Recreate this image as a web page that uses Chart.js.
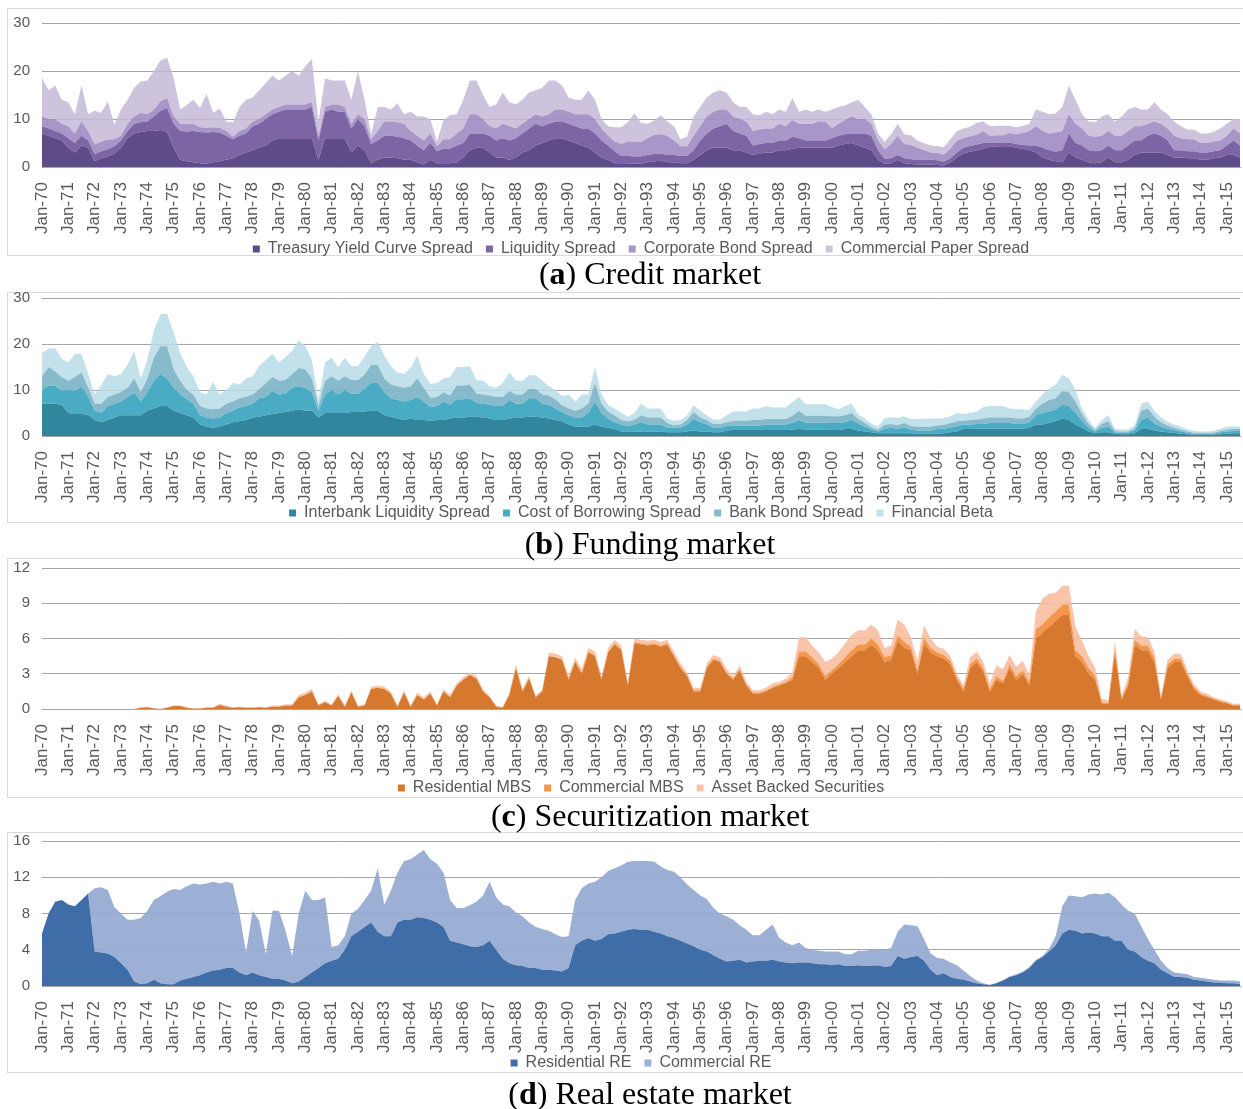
<!DOCTYPE html>
<html>
<head>
<meta charset="utf-8">
<script src="https://cdn.jsdelivr.net/npm/chart.js@4.4.1/dist/chart.umd.min.js"></script>
<style>
  body { margin: 0; width: 1243px; height: 1109px; position: relative; background: #fff; overflow: hidden; }
  .frame { position: absolute; left: 7px; width: 1240px; border: 1px solid #d9d9d9; box-sizing: border-box; }
  canvas { position: absolute; left: 0; }
  .caption { position: absolute; left: 400px; width: 500px; text-align: center; font-family: "Liberation Serif", "Times New Roman", serif; font-size: 32px; color: #000; line-height: 34px; }
</style>
</head>
<body>
<div class="frame" style="top:8px;height:248px"></div>
<div class="frame" style="top:292px;height:231px"></div>
<div class="frame" style="top:558px;height:240px"></div>
<div class="frame" style="top:832px;height:241px"></div>

<canvas id="credit" width="1243" height="254" style="top:13px"></canvas>
<canvas id="funding" width="1243" height="243" style="top:288px"></canvas>
<canvas id="securitization" width="1243" height="248" style="top:558px"></canvas>
<canvas id="realestate" width="1243" height="250" style="top:831px"></canvas>

<div class="caption" style="top:256px">(<b>a</b>) Credit market</div>
<div class="caption" style="top:526px">(<b>b</b>) Funding market</div>
<div class="caption" style="top:798px">(<b>c</b>) Securitization market</div>
<div class="caption" style="top:1076px">(<b>d</b>) Real estate market</div>

<script>
// quarterly readings, Jan-70 .. Jul-15 (183 points per series)

const yearTicks = [
  "Jan-70", "Jan-71", "Jan-72", "Jan-73", "Jan-74", "Jan-75", "Jan-76", "Jan-77", "Jan-78", "Jan-79",
  "Jan-80", "Jan-81", "Jan-82", "Jan-83", "Jan-84", "Jan-85", "Jan-86", "Jan-87", "Jan-88", "Jan-89",
  "Jan-90", "Jan-91", "Jan-92", "Jan-93", "Jan-94", "Jan-95", "Jan-96", "Jan-97", "Jan-98", "Jan-99",
  "Jan-00", "Jan-01", "Jan-02", "Jan-03", "Jan-04", "Jan-05", "Jan-06", "Jan-07", "Jan-08", "Jan-09",
  "Jan-10", "Jan-11", "Jan-12", "Jan-13", "Jan-14", "Jan-15"
];
const quarterMonths = ["Jan", "Apr", "Jul", "Oct"];
const POINTS = 183;

/* ---------- (a) Credit market ---------- */
const treasurySpread = [
  7, 6.5, 6, 5.5,  4, 3, 4.5, 4,            // 70-71
  1.2, 1.8, 2.2, 2.8,  4, 6, 7, 7.3,        // 72-73
  7.5, 7.5, 7.7, 7.3,  4, 1.5, 1.2, 1,      // 74-75
  0.8, 0.7, 1, 1.2,  1.5, 1.8, 2.5, 3,      // 76-77
  3.5, 4, 4.5, 5.5,  6, 6, 6, 6,            // 78-79
  6, 6, 1.5, 6,  6, 6, 6, 3,                // 80-81
  4.5, 3.5, 0.8, 1.5,  2, 2, 1.8, 1.5,      // 82-83
  1.5, 1, 0.5, 1.5,  0.8, 0.8, 0.8, 1,      // 84-85
  2, 3.5, 4, 4,  3, 2, 2, 1.5,              // 86-87
  2, 3, 3.5, 4.5,  5, 5.5, 6, 6,            // 88-89
  5.5, 5, 4.5, 4,  3, 2, 1.5, 0.8,          // 90-91
  0.8, 0.8, 0.7, 0.7,  1, 1.2, 1.3, 1,      // 92-93
  1, 0.8, 0.8, 1.5,  2.5, 3.5, 4, 4,        // 94-95
  4, 3.5, 3.5, 3,  2.5, 2.8, 3, 3,          // 96-97
  3.5, 3.5, 3.8, 4,  4, 4, 4, 4,            // 98-99
  4, 4.5, 4.8, 5,  4.5, 4, 3.5, 1.5,        // 00-01
  0.7, 0.8, 1.5, 0.8,  0.6, 0.5, 0.5, 0.5,  // 02-03
  0.4, 0.3, 1, 2,  2.8, 3.2, 3.5, 3.8,      // 04-05
  4.2, 4.3, 4.3, 4.3,  4, 3.8, 3.5, 3,      // 06-07
  2, 1.5, 1.2, 1,  3, 2, 1.5, 1,            // 08-09
  0.8, 1, 2, 1,  1, 1.5, 2.5, 3,            // 10-11
  3, 3, 3, 2.5,  2, 2, 1.8, 1.8,            // 12-13
  1.5, 1.5, 1.8, 2,  2.5, 2.5, 2            // 14-15
];
const liquiditySpread = [
  1.5, 1.5, 1.5, 1.5,  2, 2, 2, 1.5,        // 70-71
  1.5, 1.5, 1.5, 1.5,  1.5, 1.5, 2, 2,      // 72-73
  2, 3, 4, 5,  5, 6, 6.2, 6.5,              // 74-75
  6.5, 6.5, 6.3, 6,  5, 4, 4, 4,            // 76-77
  5, 5, 5.5, 5.5,  5.5, 6, 6, 6,            // 78-79
  6, 6.5, 4, 5.5,  6, 5.5, 5.5, 5,          // 80-81
  5.5, 5, 4, 4,  4.5, 4.5, 4.5, 4.5,        // 82-83
  4, 3.5, 3, 3.5,  2.5, 3, 3, 3.5,          // 84-85
  3, 3.5, 3, 3,  3.5, 3.5, 4, 4,            // 86-87
  4, 4, 4.5, 4.5,  3.5, 3.5, 3.5, 3.5,      // 88-89
  3.5, 3.5, 3.5, 4,  4, 3.5, 3, 2.5,        // 90-91
  1.5, 1.5, 1.5, 1.5,  1.5, 1.5, 1.5, 1.5,  // 92-93
  1.5, 1.5, 1.5, 2,  3, 3.5, 4, 4.5,        // 94-95
  5, 4, 3.5, 3.5,  2, 2, 2, 2,              // 96-97
  2, 2, 2.5, 2,  1.5, 1.5, 1.5, 1.5,        // 98-99
  2, 2, 2, 2,  2.5, 3, 3, 2,                // 00-01
  1, 1, 1, 1,  1, 1, 1, 1,                  // 02-03
  1, 0.8, 0.8, 1,  1.2, 1.2, 1.2, 1.2,      // 04-05
  0.8, 0.8, 0.8, 0.8,  0.8, 0.8, 1, 1.5,    // 06-07
  2, 2, 2, 2.5,  4, 3, 3, 2.5,              // 08-09
  2.5, 2.5, 2.5, 2.5,  2.5, 3, 3, 2.5,      // 10-11
  3.5, 4, 3.5, 3,  1.5, 1.5, 1.5, 1.5,      // 12-13
  1.5, 1.5, 1.5, 1.5,  2, 3, 2.5            // 14-15
];
const corporateBondSpread = [
  2, 2, 2.5, 2,  2.5, 2, 3, 2,              // 70-71
  2, 2, 2, 1.5,  1, 1.5, 1.5, 2,            // 72-73
  1.5, 1.5, 2, 2,  1.5, 1.5, 1.5, 1.5,      // 74-75
  1, 1, 1, 1,  1, 0.5, 1, 1,                // 76-77
  1, 1, 1, 1,  1, 1, 1, 1,                  // 78-79
  1, 1, 1, 1,  1, 1.5, 1, 1,                // 80-81
  1, 1.5, 1, 2,  3, 3, 3, 3,                // 82-83
  2, 2, 2, 2,  1, 2, 2, 2.5,                // 84-85
  3, 4, 4, 3,  2, 2.5, 3, 3,                // 86-87
  2, 2, 2, 2,  2, 2, 2.5, 2.5,              // 88-89
  2.5, 2.5, 3, 3,  3, 2.5, 2, 2,            // 90-91
  2.5, 3, 3, 3,  3.5, 4, 4, 4,              // 92-93
  3, 2, 2, 3,  3, 3.5, 3.5, 3.5,            // 94-95
  3, 3, 3, 3,  3, 3, 3, 3,                  // 96-97
  3.5, 3, 3.5, 3,  3.5, 3.5, 4, 4,          // 98-99
  2, 2.5, 3, 3.5,  3, 3, 2.5, 2,            // 00-01
  2, 3, 4, 3,  3, 2.5, 2, 1.5,              // 02-03
  1.5, 1.5, 2, 2.5,  2, 2, 2, 2.5,          // 04-05
  1.5, 1.5, 1.5, 2,  2, 2.5, 3, 4,          // 06-07
  3.5, 3.5, 4, 4,  4, 4, 3.5, 3,            // 08-09
  3, 3, 3, 3,  3, 3, 3, 3,                  // 10-11
  2.5, 2.5, 2.5, 2.5,  3, 2.5, 2.5, 2.5,    // 12-13
  2, 2, 2, 2,  2, 2.5, 2.5                  // 14-15
];
const commercialPaperSpread = [
  8, 6, 7, 5,  5, 4, 7.5, 3.5,              // 70-71
  7, 6, 8, 3,  5.5, 5, 6, 6.5,              // 72-73
  7, 8, 8.5, 8.5,  8, 3, 4, 5,              // 74-75
  4, 7, 3, 4,  2, 3, 5, 6,                  // 76-77
  5, 6, 6.5, 7,  5.5, 6, 7, 6,              // 78-79
  8, 9, 3, 6,  5, 5, 5.5, 5,                // 80-81
  9, 4, 1, 5,  3, 2.5, 4, 2,                // 82-83
  4, 4, 5, 3,  1, 4, 5, 4,                  // 84-85
  6, 7, 7, 5,  4, 5, 6.5, 5,                // 86-87
  5, 5, 5.5, 5,  6, 7, 6, 5,                // 88-89
  3, 3, 3, 5,  4, 2, 2, 3,                  // 90-91
  3.5, 4, 6, 4,  3, 3, 4, 3,                // 92-93
  3, 1.5, 2, 4,  4, 4, 4, 4,                // 94-95
  3.5, 3, 2.5, 3,  3.5, 3, 3.5, 3,          // 96-97
  3, 3, 4.5, 2.5,  3, 2.5, 2.5, 2,          // 98-99
  4, 3.5, 3, 3,  4, 2.5, 2, 1.5,            // 00-01
  1.5, 2, 2.5, 2,  2, 1.5, 1.5, 1.5,        // 02-03
  1.5, 1.5, 2, 2,  2, 2, 2.5, 2,            // 04-05
  2, 2, 2, 1.5,  1.5, 1.5, 1.5, 3.5,        // 06-07
  4, 4, 4, 5,  6, 5, 3, 3,                  // 08-09
  3, 4, 3.5, 3,  4, 4.5, 4, 3.5,            // 10-11
  3, 4, 3, 3,  3, 2.5, 2, 2,                // 12-13
  2, 2, 2, 2.5,  2.5, 2, 3                  // 14-15
];

/* ---------- (b) Funding market ---------- */
const interbankSpread = [
  7, 7, 7, 6.8,  5, 4.8, 4.8, 4.6,          // 70-71
  3.5, 3, 3.5, 4,  4.5, 4.5, 4.5, 4.5,      // 72-73
  5.5, 6, 6.5, 6.5,  5.5, 5, 4.5, 4,        // 74-75
  2.5, 2, 1.8, 2,  2.5, 3, 3.2, 3.5,        // 76-77
  4, 4.2, 4.5, 4.8,  5, 5.2, 5.5, 5.8,      // 78-79
  5.5, 5.5, 4, 5,  5, 5, 5, 5.2,            // 80-81
  5.2, 5.3, 5.5, 5.5,  4.5, 4.2, 3.8, 3.5,  // 82-83
  3.8, 3.5, 3.5, 3.3,  3.5, 3.5, 3.8, 4,    // 84-85
  4, 4.2, 4.2, 4,  3.8, 3.5, 3.5, 3.8,      // 86-87
  4, 4, 4.2, 4.2,  4, 3.8, 3.5, 3.2,        // 88-89
  2.5, 2, 2, 2,  2.5, 2, 1.8, 1.5,          // 90-91
  1, 1, 1, 1,  1, 1, 1, 0.8,                // 92-93
  0.8, 0.8, 1, 1.2,  1, 1, 0.8, 0.8,        // 94-95
  1.2, 1.3, 1.3, 1.3,  1.3, 1.3, 1.3, 1.3,  // 96-97
  1.3, 1.3, 1.4, 1.5,  1.4, 1.4, 1.4, 1.4,  // 98-99
  1.3, 1.3, 1.5, 1.5,  1.2, 1, 0.8, 0.6,    // 00-01
  0.6, 0.6, 0.6, 0.6,  0.6, 0.5, 0.5, 0.5,  // 02-03
  0.5, 0.6, 0.8, 1,  1.5, 1.5, 1.6, 1.6,    // 04-05
  1.6, 1.6, 1.6, 1.6,  1.6, 1.6, 1.8, 2.5,  // 06-07
  2.5, 2.8, 3.2, 3.8,  3.5, 2.5, 1.8, 1,    // 08-09
  0.6, 0.8, 0.8, 0.5,  0.4, 0.4, 0.6, 1.5,  // 10-11
  1.5, 1.2, 1, 0.8,  0.7, 0.5, 0.4, 0.3,    // 12-13
  0.3, 0.3, 0.3, 0.4,  0.5, 0.6, 0.6        // 14-15
];
const borrowingSpread = [
  3, 4, 4, 3,  5, 5, 6, 4,                  // 70-71
  2, 2, 3, 3,  3, 4, 5, 3,                  // 72-73
  4, 6, 7, 6,  5, 4, 3.5, 3,                // 74-75
  2, 2, 2, 2,  2.5, 2.5, 3, 3,              // 76-77
  3, 4, 4, 5,  4, 4, 5, 5,                  // 78-79
  5, 4, 1.5, 4,  5, 4, 5, 4,                // 80-81
  4, 5, 6, 6,  5, 4, 4, 4,                  // 82-83
  4, 5, 4, 3,  3, 4, 3, 4,                  // 84-85
  4, 4, 3, 3,  3, 3, 3, 4,                  // 86-87
  3, 3, 4, 4,  3, 3, 2.5, 2,                // 88-89
  2, 2, 2, 3,  5, 3, 2, 1.5,                // 90-91
  1.5, 1.2, 1.5, 2,  1.5, 1.5, 1.5, 1,      // 92-93
  1, 1, 1.5, 2.5,  2, 1.5, 1, 1,            // 94-95
  1, 1, 1, 1,  1, 1, 1.2, 1.2,              // 96-97
  1.2, 1.2, 1.5, 2,  1.5, 1.5, 1.5, 1.5,    // 98-99
  1.5, 1.5, 1.5, 2,  1.5, 1, 0.6, 0.4,      // 00-01
  1, 1.2, 1, 1.2,  0.8, 0.7, 0.7, 0.7,      // 02-03
  1, 1, 1, 1.2,  1, 1, 1, 1,                // 04-05
  1.2, 1.2, 1.2, 1.2,  1, 1, 1.2, 2,        // 06-07
  2.5, 2.5, 2.5, 3,  3, 2.5, 1.5, 0.8,      // 08-09
  0.4, 1, 1.2, 0.3,  0.3, 0.3, 0.6, 2,      // 10-11
  2.5, 1.5, 1, 0.8,  0.6, 0.5, 0.3, 0.2,    // 12-13
  0.2, 0.2, 0.2, 0.4,  0.5, 0.5, 0.5        // 14-15
];
const bankBondSpread = [
  3, 4, 3, 3,  2, 3, 3, 2,                  // 70-71
  1.5, 2, 2, 2,  2, 2, 3, 2,                // 72-73
  3, 5, 6, 7,  4, 3, 2, 2,                  // 74-75
  2, 2, 2, 2,  2, 2, 2, 2,                  // 76-77
  2, 2, 3, 3,  3, 3, 3, 4,                  // 78-79
  4, 3, 1, 3,  3, 3, 3, 3,                  // 80-81
  3, 3, 4, 4,  3, 3, 3, 3,                  // 82-83
  3, 4, 3, 2,  2, 2, 2, 3,                  // 84-85
  3, 3, 2, 2,  2, 2, 2, 2,                  // 86-87
  2, 2, 2, 2,  2, 2, 2, 1.5,                // 88-89
  1.5, 1.5, 2, 2,  4, 2, 1.5, 1.5,          // 90-91
  1, 1, 1, 1.5,  1.5, 1.5, 1.5, 1,          // 92-93
  0.5, 0.7, 1, 1.5,  1, 1, 0.8, 0.8,        // 94-95
  0.8, 1, 1, 1,  1.2, 1.2, 1.2, 1.2,        // 96-97
  1.2, 1.2, 1.5, 2,  1.5, 1.5, 1.5, 1.5,    // 98-99
  1.5, 1.5, 1.5, 1.5,  1, 0.8, 0.5, 0.4,    // 00-01
  0.8, 0.8, 0.8, 1,  0.8, 0.8, 0.8, 0.8,    // 02-03
  0.8, 0.8, 1, 1,  0.8, 1, 1, 1.2,          // 04-05
  1.2, 1.2, 1.2, 1.2,  1.2, 1.2, 1.2, 1.5,  // 06-07
  2, 2.5, 2.5, 3,  3, 2.5, 1.5, 0.8,        // 08-09
  0.3, 0.8, 1.2, 0.3,  0.3, 0.3, 0.5, 2,    // 10-11
  2, 1.5, 1, 0.7,  0.5, 0.4, 0.3, 0.2,      // 12-13
  0.2, 0.2, 0.2, 0.3,  0.4, 0.4, 0.4        // 14-15
];
const financialBeta = [
  5, 4, 5, 4,  4, 5, 4, 3,                  // 70-71
  2, 4, 5, 4,  4, 5, 6, 3,                  // 72-73
  4, 6, 7, 7,  8, 6, 5, 4,                  // 74-75
  3, 3, 6, 3,  3, 4, 3, 4,                  // 76-77
  4, 5, 5, 5,  4, 5, 5, 6,                  // 78-79
  5, 4, 1.5, 4,  4, 3, 4, 3,                // 80-81
  3, 4, 4, 5,  5, 4, 3, 3,                  // 82-83
  4, 5, 3, 3,  3, 3, 4, 4,                  // 84-85
  4, 4, 3, 3,  2, 2, 3, 4,                  // 86-87
  3, 3, 3, 3,  3, 2, 2, 2,                  // 88-89
  3, 2, 3, 2,  3.5, 2, 1.5, 1.5,            // 90-91
  1.5, 1, 1.5, 2.5,  2, 2, 2, 1,            // 92-93
  1, 1, 1, 1.5,  1.5, 1, 1, 1,              // 94-95
  1.5, 2, 2, 2,  2.5, 2.5, 2.8, 2.5,        // 96-97
  2.5, 2.5, 3, 3,  2.5, 2.5, 2.5, 2.5,      // 98-99
  2, 1.5, 2, 2,  1, 1, 0.8, 0.6,            // 00-01
  1.5, 1.5, 1.5, 1.5,  1.5, 1.7, 1.8, 1.8,  // 02-03
  1.5, 1.5, 1.5, 1.8,  1.5, 1.5, 1.7, 2.5,  // 04-05
  2.5, 2.5, 2.5, 2,  2, 2, 1.5, 1.5,        // 06-07
  2, 2.5, 3, 3.5,  3, 2.5, 1.2, 0.9,        // 08-09
  0.5, 0.9, 1.3, 0.4,  0.4, 0.4, 0.6, 1.5,  // 10-11
  1.5, 1.3, 1, 0.8,  0.7, 0.6, 0.5, 0.4,    // 12-13
  0.3, 0.3, 0.4, 0.5,  0.6, 0.6, 0.5        // 14-15
];

/* ---------- (c) Securitization market ---------- */
const residentialMBS = [
  0, 0, 0, 0,  0, 0, 0, 0,                  // 70-71
  0, 0, 0, 0,  0, 0, 0, 0.1,                // 72-73
  0.15, 0.05, 0, 0.1,  0.25, 0.25, 0.1, 0.05, // 74-75
  0.05, 0.1, 0.1, 0.35,  0.2, 0.1, 0.15, 0.1, // 76-77
  0.1, 0.15, 0.1, 0.2,  0.2, 0.3, 0.3, 1,   // 78-79
  1.2, 1.5, 0.3, 0.6,  0.3, 1.1, 0.2, 1.4,  // 80-81
  0.2, 0.3, 1.7, 1.8,  1.7, 1.3, 0.2, 1.4,  // 82-83
  0.2, 1.2, 0.8, 1.3,  0.3, 1.5, 1, 2,      // 84-85
  2.5, 2.9, 2.6, 1.5,  1, 0.2, 0.1, 1.2,    // 86-87
  3.5, 1.5, 2.6, 1,  1.5, 4.5, 4.4, 4.2,    // 88-89
  2.5, 4, 3, 4.8,  4.5, 2.5, 4.8, 5.5,      // 90-91
  5, 2, 5.6, 5.5,  5.4, 5.5, 5.3, 5.5,      // 92-93
  4.5, 3.5, 2.8, 1.5,  1.5, 3.5, 4.2, 4,    // 94-95
  3, 2.5, 3.3, 2,  1.3, 1.3, 1.5, 1.8,      // 96-97
  2, 2.2, 2.5, 4.5,  4.5, 4, 3.5, 2.5,      // 98-99
  3, 3.5, 4, 4.5,  5, 5, 5.5, 5,            // 00-01
  4, 4.2, 5.8, 5.2,  5, 3, 5.6, 4.8,        // 02-03
  4.5, 4.3, 3.8, 2.5,  1.5, 3.5, 4, 3.2,    // 04-05
  1.5, 2.5, 2.2, 3.5,  2.5, 3, 2, 6,        // 06-07
  6.5, 7, 7.5, 8,  8, 4.5, 4, 3,            // 08-09
  2.5, 0.5, 0.4, 4.8,  0.8, 2, 5.5, 5,      // 10-11
  5, 4, 0.8, 3.5,  4, 4, 2.8, 1.7,          // 12-13
  1.2, 1, 0.8, 0.6,  0.5, 0.3, 0.3          // 14-15
];
const commercialMBS = [
  0, 0, 0, 0,  0, 0, 0, 0,                  // 70-71
  0, 0, 0, 0,  0, 0, 0, 0,                  // 72-73
  0, 0, 0, 0,  0, 0, 0, 0,                  // 74-75
  0, 0, 0, 0,  0, 0, 0, 0,                  // 76-77
  0, 0, 0, 0,  0, 0, 0, 0,                  // 78-79
  0, 0, 0, 0,  0, 0, 0, 0,                  // 80-81
  0, 0, 0, 0,  0, 0, 0, 0,                  // 82-83
  0, 0, 0, 0,  0, 0, 0, 0,                  // 84-85
  0, 0, 0, 0,  0, 0, 0, 0,                  // 86-87
  0, 0, 0, 0,  0, 0, 0, 0,                  // 88-89
  0.1, 0.1, 0.1, 0.1,  0.1, 0.1, 0.1, 0.1,  // 90-91
  0.1, 0.1, 0.1, 0.1,  0.1, 0.1, 0.1, 0.1,  // 92-93
  0.1, 0.1, 0.1, 0.1,  0.1, 0.1, 0.1, 0.1,  // 94-95
  0.1, 0.1, 0.1, 0.1,  0.1, 0.1, 0.1, 0.1,  // 96-97
  0.1, 0.1, 0.2, 0.4,  0.4, 0.4, 0.3, 0.3,  // 98-99
  0.3, 0.3, 0.4, 0.5,  0.5, 0.5, 0.5, 0.5,  // 00-01
  0.4, 0.4, 0.5, 0.5,  0.3, 0.3, 0.5, 0.4,  // 02-03
  0.3, 0.3, 0.3, 0.2,  0.2, 0.3, 0.3, 0.3,  // 04-05
  0.2, 0.3, 0.2, 0.3,  0.3, 0.3, 0.3, 0.8,  // 06-07
  0.7, 0.8, 0.8, 0.9,  0.9, 0.5, 0.5, 0.5,  // 08-09
  0.3, 0.1, 0.1, 0.4,  0.1, 0.2, 0.4, 0.4,  // 10-11
  0.4, 0.4, 0.1, 0.3,  0.3, 0.3, 0.2, 0.2,  // 12-13
  0.1, 0.1, 0.1, 0.1,  0.05, 0.05, 0.05     // 14-15
];
const assetBacked = [
  0, 0, 0, 0,  0, 0, 0, 0,                  // 70-71
  0, 0, 0, 0,  0, 0, 0, 0.05,               // 72-73
  0.05, 0.05, 0, 0.05,  0.05, 0.05, 0.05, 0, // 74-75
  0, 0.05, 0.05, 0.1,  0.1, 0.05, 0.05, 0.05, // 76-77
  0.05, 0.05, 0.05, 0.1,  0.1, 0.1, 0.1, 0.2, // 78-79
  0.2, 0.2, 0.1, 0.1,  0.1, 0.2, 0.1, 0.2,  // 80-81
  0.1, 0.1, 0.2, 0.2,  0.2, 0.2, 0.1, 0.2,  // 82-83
  0.1, 0.2, 0.2, 0.2,  0.1, 0.2, 0.2, 0.2,  // 84-85
  0.2, 0.2, 0.2, 0.2,  0.1, 0.1, 0.1, 0.2,  // 86-87
  0.3, 0.2, 0.2, 0.1,  0.2, 0.3, 0.3, 0.3,  // 88-89
  0.2, 0.3, 0.3, 0.3,  0.3, 0.2, 0.3, 0.3,  // 90-91
  0.3, 0.2, 0.3, 0.3,  0.3, 0.3, 0.3, 0.3,  // 92-93
  0.3, 0.3, 0.2, 0.2,  0.2, 0.3, 0.3, 0.3,  // 94-95
  0.3, 0.2, 0.3, 0.2,  0.2, 0.2, 0.2, 0.3,  // 96-97
  0.2, 0.3, 0.4, 1.2,  1.2, 1, 1, 1.2,      // 98-99
  1, 1, 1.2, 1.3,  1.2, 1.2, 1.2, 1.2,      // 00-01
  0.8, 0.8, 1.3, 1.5,  0.8, 0.8, 1, 0.8,    // 02-03
  0.5, 0.5, 0.4, 0.3,  0.3, 0.6, 0.6, 0.5,  // 04-05
  0.5, 0.9, 1, 0.8,  0.8, 0.8, 0.6, 1.5,    // 06-07
  2.2, 2, 1.6, 1.6,  1.6, 2, 1.3, 1,        // 08-09
  0.7, 0.3, 0.2, 0.6,  0.2, 0.5, 0.9, 0.8,  // 10-11
  0.7, 0.5, 0.2, 0.4,  0.4, 0.4, 0.3, 0.2,  // 12-13
  0.2, 0.2, 0.1, 0.1,  0.1, 0.1, 0.1        // 14-15
];

/* ---------- (d) Real estate market ---------- */
const residentialRE = [
  5.8, 8, 9.3, 9.5,  9, 8.8, 9.5, 10.2,     // 70-71
  3.8, 3.7, 3.6, 3.2,  2.5, 1.8, 0.5, 0.2,  // 72-73
  0.3, 0.7, 0.3, 0.2,  0.2, 0.6, 0.8, 1,    // 74-75
  1.2, 1.5, 1.7, 1.8,  2, 2, 1.5, 1.2,      // 76-77
  1.5, 1.2, 1, 0.8,  0.8, 0.6, 0.3, 0.5,    // 78-79
  1, 1.5, 2, 2.5,  2.8, 3, 4, 5.5,          // 80-81
  6, 6.5, 7, 6,  5.5, 5.5, 7, 7.3,          // 82-83
  7.3, 7.6, 7.5, 7.3,  7, 6.5, 5, 4.8,      // 84-85
  4.6, 4.4, 4.3, 4.5,  5, 4, 3, 2.5,        // 86-87
  2.3, 2.2, 2, 2,  1.8, 1.8, 1.7, 1.6,      // 88-89
  2, 4.5, 5, 5.3,  5, 5.2, 5.7, 5.8,        // 90-91
  6, 6.2, 6.3, 6.2,  6.2, 6, 5.8, 5.5,      // 92-93
  5.3, 5, 4.7, 4.4,  4, 3.8, 3.4, 3,        // 94-95
  2.7, 2.8, 2.9, 2.6,  2.7, 2.8, 2.8, 2.9,  // 96-97
  2.7, 2.6, 2.5, 2.6,  2.6, 2.5, 2.4, 2.4,  // 98-99
  2.3, 2.4, 2.2, 2.2,  2.3, 2.2, 2.2, 2.3,  // 00-01
  2.1, 2.2, 3.3, 3,  3.2, 3.3, 2.8, 1.8,    // 02-03
  1.2, 1.4, 1, 0.8,  0.7, 0.5, 0.3, 0.2,    // 04-05
  0.1, 0.3, 0.6, 1,  1.2, 1.5, 2, 2.8,      // 06-07
  3.2, 3.8, 4.5, 5.8,  6.2, 6.1, 5.8, 5.9,  // 08-09
  5.8, 5.5, 5.5, 5,  5, 4, 3.8, 3.2,        // 10-11
  2.8, 2.5, 1.8, 1.4,  1, 1, 0.9, 0.7,      // 12-13
  0.6, 0.5, 0.4, 0.4,  0.3, 0.3, 0.2        // 14-15
];
const commercialRE = [
  0, 0, 0, 0,  0, 0, 0, 0,                  // 70-71
  7, 7.2, 7, 5.5,  5.5, 5.5, 6.8, 7.3,      // 72-73
  8, 8.8, 9.6, 10.2,  10.5, 10, 10.2, 10.3, // 74-75
  10, 9.8, 9.8, 9.5,  9.5, 9.3, 6.5, 2.5,   // 76-77
  6.8, 6, 2.5, 7.5,  7.5, 5.5, 3, 7.5,      // 78-79
  9.5, 8, 7.5, 7.3,  1.5, 1.5, 1.5, 2.5,    // 80-81
  2.5, 3, 3.5, 7,  3.5, 5, 5.5, 6.5,        // 82-83
  6.7, 6.9, 7.5, 6.7,  6.5, 6, 4.5, 3.8,    // 84-85
  4, 4.5, 5, 5.5,  6.5, 5.8, 6, 6.3,        // 86-87
  5.8, 5.5, 5, 4.5,  4.5, 4.3, 4, 3.8,      // 88-89
  3.5, 5, 5.8, 6,  6.5, 6.8, 7, 7.2,        // 90-91
  7.3, 7.5, 7.5, 7.6,  7.6, 7.7, 7.4, 7.3,  // 92-93
  7.3, 7, 6.5, 6.2,  6, 5.8, 5.2, 5,        // 94-95
  5, 4.5, 3.8, 3.6,  2.9, 2.8, 3.4, 3.9,    // 96-97
  2.6, 2.2, 2, 2.2,  1.6, 1.5, 1.5, 1.4,    // 98-99
  1.5, 1.4, 1.3, 1.3,  1.6, 1.7, 1.8, 1.8,  // 00-01
  1.9, 2, 2.7, 3.8,  3.5, 3.3, 2.4, 1.8,    // 02-03
  1.9, 1.6, 1.6, 1.5,  1, 0.6, 0.3, 0.1,    // 04-05
  0.05, 0.05, 0.05, 0.05,  0.1, 0.1, 0.1, 0.1, // 06-07
  0.1, 0.3, 1, 3,  3.8, 3.8, 4, 4.2,        // 08-09
  4.4, 4.6, 4.8, 4.8,  4, 4.3, 4.2, 3.4,    // 10-11
  2.4, 1.5, 1, 0.6,  0.5, 0.4, 0.4, 0.3,    // 12-13
  0.3, 0.3, 0.3, 0.2,  0.3, 0.3, 0.3        // 14-15
];

/* ===================== Helpers ===================== */

const FONT = "'Liberation Sans', Arial, sans-serif";
const TEXT = "#595959";
const GRID = "#a6a6a6";

function quarterLabels() {
  const out = [];
  for (const t of yearTicks) {
    const yy = t.slice(4);
    for (const m of quarterMonths) out.push(`${m}-${yy}`);
  }
  return out.slice(0, POINTS);
}

function makeDatasets(series) {
  return series.map((s, i) => ({
    label: s.label,
    data: s.data,
    backgroundColor: s.color,
    borderColor: s.color,
    borderWidth: 0,
    pointRadius: 0,
    tension: 0,
    fill: i === 0 ? "origin" : "-1",
  }));
}

// rotated tick labels run deeper than the fixed axis height; let them draw down to the canvas edge
const labelRoom = {
  id: "labelRoom",
  afterLayout(chart) {
    const x = chart.scales.x;
    if (x) x.bottom = chart.height;
  },
};

function renderPanel(id, series, yMax, yStep, xHeight) {
  const ctx = document.getElementById(id);
  return new Chart(ctx, {
    type: "line",
    data: { labels: quarterLabels(), datasets: makeDatasets(series) },
    options: {
      responsive: false,
      animation: false,
      layout: { padding: { left: 7, right: 3, top: 10, bottom: 0 } },
      scales: {
        x: {
          offset: false,
          grid: { display: false },
          border: { display: true, color: GRID, width: 1 },
          ticks: {
            autoSkip: false,
            maxRotation: 90,
            minRotation: 90,
            padding: 7,
            color: TEXT,
            font: { family: FONT, size: 17 },
            callback: function (val, i) { return i % 4 === 0 ? this.getLabelForValue(val) : null; },
          },
          afterFit: (s) => { s.height = xHeight; s.paddingLeft = 0; s.paddingRight = 0; },
        },
        y: {
          stacked: true,
          min: 0,
          max: yMax,
          grid: { color: GRID, drawTicks: false },
          border: { display: false },
          ticks: { stepSize: yStep, padding: 12, color: TEXT, font: { family: FONT, size: 15 } },
          afterFit: (s) => { s.width = 35; s.paddingTop = 0; s.paddingBottom = 0; },
        },
      },
      plugins: {
        legend: {
          position: "bottom",
          fullSize: false,
          labels: { boxWidth: 7, boxHeight: 7, padding: 13, color: TEXT, font: { family: FONT, size: 16 } },
        },
        tooltip: { enabled: false },
      },
    },
    plugins: [labelRoom],
  });
}

/* ===================== Charts ===================== */

renderPanel("credit", [
  { label: "Treasury Yield Curve Spread", data: treasurySpread, color: "#5f4b87" },
  { label: "Liquidity Spread", data: liquiditySpread, color: "#7d64a5" },
  { label: "Corporate Bond Spread", data: corporateBondSpread, color: "rgba(160,141,194,0.92)" },
  { label: "Commercial Paper Spread", data: commercialPaperSpread, color: "rgba(196,185,214,0.85)" },
], 30, 10, 61);

renderPanel("funding", [
  { label: "Interbank Liquidity Spread", data: interbankSpread, color: "#31859c" },
  { label: "Cost of Borrowing Spread", data: borrowingSpread, color: "#4aabc5" },
  { label: "Bank Bond Spread", data: bankBondSpread, color: "rgba(125,181,200,0.92)" },
  { label: "Financial Beta", data: financialBeta, color: "rgba(183,220,230,0.85)" },
], 30, 10, 56);

renderPanel("securitization", [
  { label: "Residential MBS", data: residentialMBS, color: "#d7782f" },
  { label: "Commercial MBS", data: commercialMBS, color: "#f5964a" },
  { label: "Asset Backed Securities", data: assetBacked, color: "rgba(250,190,162,0.9)" },
], 12, 3, 58);

renderPanel("realestate", [
  { label: "Residential RE", data: residentialRE, color: "#3f6da8" },
  { label: "Commercial RE", data: commercialRE, color: "rgba(148,168,209,0.92)" },
], 16, 4, 56);
</script>
</body>
</html>
